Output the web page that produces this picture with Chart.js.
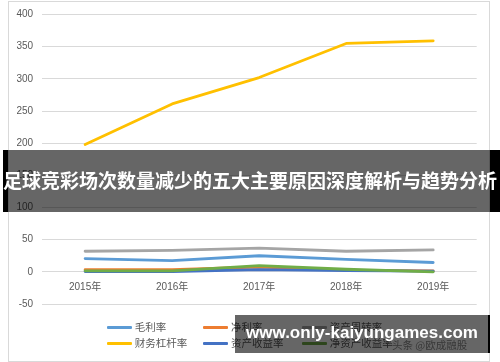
<!DOCTYPE html>
<html><head><meta charset="utf-8">
<script src="https://cdn.jsdelivr.net/npm/chart.js@4"></script>
<style>
html,body{margin:0;padding:0;background:#fff;}
#wrap{position:relative;width:500px;height:362px;overflow:hidden;}
#frame{position:absolute;left:8px;top:1px;width:480px;height:359px;border:1px solid #D9D9D9;}
canvas{position:absolute;left:0;top:0;}
.lg{position:absolute;font:10.5px "Noto Sans CJK SC","Liberation Sans",sans-serif;color:#595959;white-space:nowrap;line-height:12px;}
.lg i{position:absolute;left:0;top:5px;width:25px;height:3px;border-radius:1px;}
.lg span{position:absolute;left:28px;top:0;}
#banner{position:absolute;left:8px;top:150px;width:482px;height:62px;background:rgba(0,0,0,0.6);}
.blk{position:absolute;background:#000;}
#btext{position:absolute;left:0;top:168px;width:500px;text-align:center;color:#fff;font:bold 19px "Noto Sans CJK SC",sans-serif;white-space:nowrap;line-height:24px;}
#wm{position:absolute;left:235px;top:315px;width:254px;height:38px;background:rgba(0,0,0,0.6);}
#wmtext{position:absolute;left:235px;top:322px;width:254px;text-align:center;color:#fff;font:bold 17px "Liberation Sans",sans-serif;white-space:nowrap;line-height:22px;}
#src{position:absolute;left:392px;top:337px;font:10.5px "Noto Sans CJK SC",sans-serif;color:#8c8c8c;white-space:nowrap;}
</style></head>
<body><div id="wrap">
<div id="frame"></div>
<canvas id="c" width="500" height="362"></canvas>
<div id="legend"></div>
<div id="src">头条 @欧成融股</div>
<div class="blk" style="left:3px;top:150px;width:5px;height:62px"></div>
<div id="banner"></div>
<div class="blk" style="left:490px;top:150px;width:10px;height:62px"></div>
<div id="btext">足球竞彩场次数量减少的五大主要原因深度解析与趋势分析</div>
<div id="wm"></div>
<div class="blk" style="left:488px;top:315px;width:2px;height:38px"></div>
<div id="wmtext">www.only-kaiyungames.com</div>
</div>
<script>
const years = ["2015年","2016年","2017年","2018年","2019年"];
const yTicks = [-50,0,50,100,150,200,250,300,350,400];
const seriesNames = ["毛利率","净利率","资产周转率","财务杠杆率","资产收益率","净资产收益率"];
const seriesColors = ["#5B9BD5","#ED7D31","#A5A5A5","#FFC000","#4472C4","#70AD47"];
const grossMargin   = [20.5, 17.5, 25, 19.5, 14.5];
const netMargin     = [3.5, 3.5, 7.5, 2.5, 1.5];
const assetTurnover = [32, 33.5, 37, 32, 34];
const leverage      = [198, 261, 302, 355, 359];
const roa           = [0.5, 0.5, 3.5, 2, 1];
const roe           = [1.5, 1.5, 9.5, 4, 0];
const seriesValues = [grossMargin, netMargin, assetTurnover, leverage, roa, roe];

const legendPos = [[106.7,321],[203,321],[301.7,321],[106.7,337],[203,337],[301.7,337]];
const lg = document.getElementById('legend');
seriesNames.forEach((n,i)=>{
  const d = document.createElement('div');
  d.className='lg';
  d.style.left = legendPos[i][0]+'px';
  d.style.top = legendPos[i][1]+'px';
  d.innerHTML = '<i style="background:'+seriesColors[i]+'"></i><span>'+n+'</span>';
  lg.appendChild(d);
});

const n = seriesNames.length;
new Chart(document.getElementById('c'), {
  type:'line',
  data:{
    labels: years,
    datasets: seriesNames.map((name,i)=>({
      label:name, data:seriesValues[i], borderColor:seriesColors[i], backgroundColor:seriesColors[i],
      borderWidth:2.8, pointRadius:0, tension:0, fill:false, order:n-i,
      borderCapStyle:'round', borderJoinStyle:'round'
    }))
  },
  options:{
    responsive:false, animation:false, devicePixelRatio:1,
    layout:{padding:{left:8, right:23.3, top:14, bottom:58}},
    plugins:{legend:{display:false}, tooltip:{enabled:false}},
    scales:{
      x:{
        position:{y:0},
        offset:true,
        grid:{display:false, drawTicks:false},
        border:{display:false},
        ticks:{color:'#595959', font:{family:'"Liberation Sans","Noto Sans CJK SC"', size:10}, padding:9, maxRotation:0}
      },
      y:{
        min:-50, max:400,
        afterFit:(s)=>{ s.width = 33.6; },
        afterBuildTicks:(s)=>{ s.ticks = yTicks.map(v=>({value:v})); },
        grid:{color:'#D9D9D9', lineWidth:1, drawTicks:false},
        border:{display:false},
        ticks:{color:'#595959', font:{family:'"Liberation Sans"', size:10}, padding:8.5}
      }
    }
  }
});
</script>
</body></html>
